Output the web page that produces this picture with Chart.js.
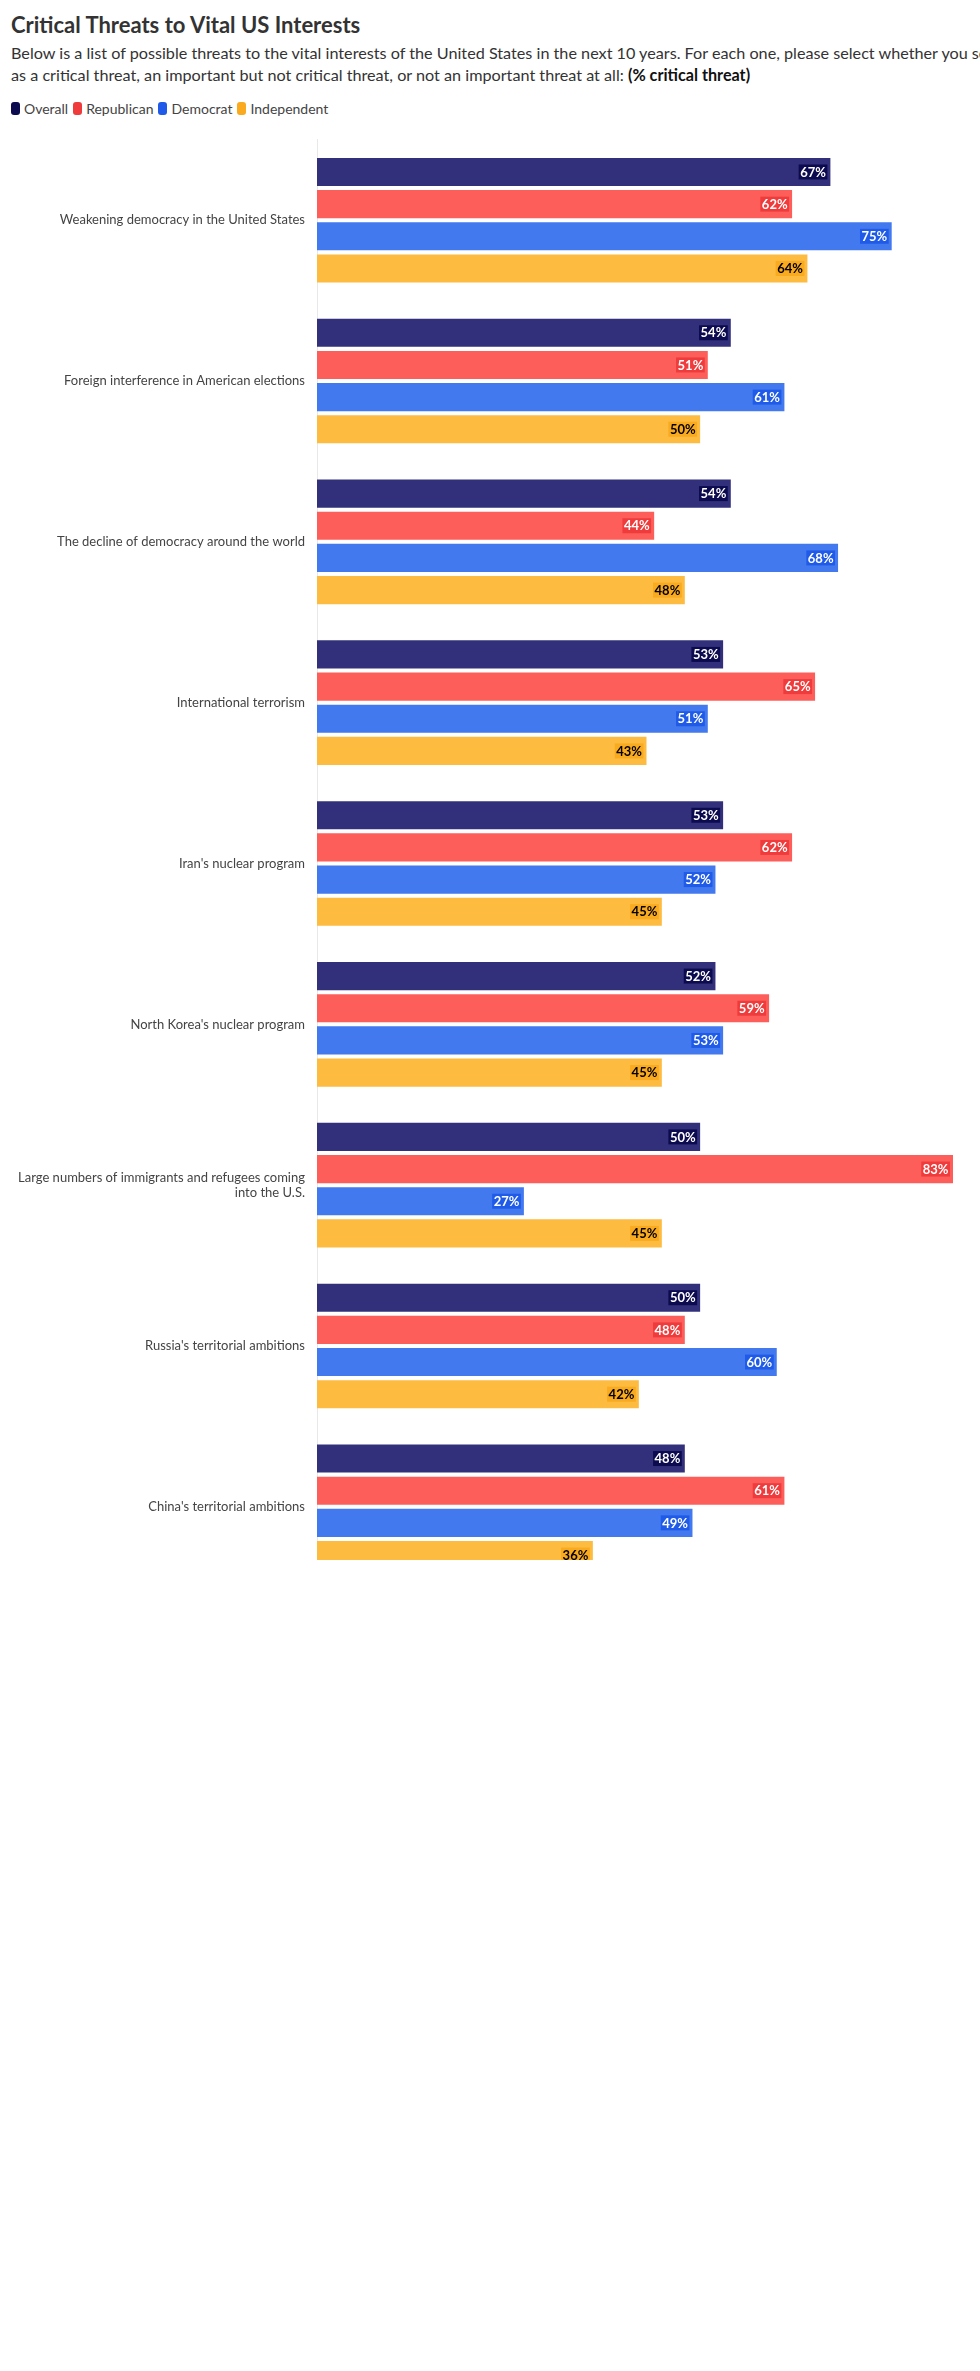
<!DOCTYPE html>
<html>
<head>
<meta charset="utf-8">
<script src="https://cdn.jsdelivr.net/npm/chart.js@4/dist/chart.umd.min.js"></script>
<style>
  html, body { margin: 0; padding: 0; background: #fff; overflow: hidden; width: 980px; }
  body { font-family: Lato, "Noto Sans", sans-serif; color: #333; }
  .head { padding: 0 0 0 11px; }
  h1 { font-size: 22px; line-height: 30px; margin: 10px 0 0 0; font-weight: 700; color: #333; }
  .sub { font-size: 16.2px; line-height: 22px; margin-top: 2px; white-space: nowrap; color: #333; }
  .sub b { color: #111; }
  .legend { margin-top: 12px; height: 20px; display: flex; align-items: center; font-size: 14px; color: #444; }
  .legend span.item { display: flex; align-items: center; margin-right: 5px; }
  .legend i { display: inline-block; width: 9px; height: 13px; border-radius: 3px; margin-right: 4px; }
  .clip { margin-top: 2px; height: 1440px; overflow: hidden; }
  .box { position: relative; width: 980px; height: 1487px; }
</style>
</head>
<body>
<div class="head">
  <h1>Critical Threats to Vital US Interests</h1>
  <div class="sub">Below is a list of possible threats to the vital interests of the United States in the next 10 years. For each one, please select whether you see this<br>as a critical threat, an important but not critical threat, or not an important threat at all: <b>(% critical threat)</b></div>
  <div class="legend" id="legend"></div>
</div>
<div class="clip"><div class="box"><canvas id="threatChart"></canvas></div></div>

<script>
const CATEGORIES = [
    "Weakening democracy in the United States",
    "Foreign interference in American elections",
    "The decline of democracy around the world",
    "International terrorism",
    "Iran's nuclear program",
    "North Korea's nuclear program",
    ["Large numbers of immigrants and refugees coming", "into the U.S."],
    "Russia's territorial ambitions",
    "China's territorial ambitions"
];
const SERIES = ["Overall", "Republican", "Democrat", "Independent"];
const OVERALL     = [67, 54, 54, 53, 53, 52, 50, 50, 48];
const REPUBLICAN  = [62, 51, 44, 65, 62, 59, 83, 48, 61];
const DEMOCRAT    = [75, 61, 68, 51, 52, 53, 27, 60, 49];
const INDEPENDENT = [64, 50, 48, 43, 45, 45, 45, 42, 36];

const BASE_COLORS = ["#0d0b4f", "#ef3b3b", "#1f5be8", "#f9aa1f"];
const BAR_COLORS  = ["#32307a", "#fe5e5a", "#4379ef", "#fdbb40"];
const LABEL_TEXT  = ["#fff", "#fff", "#fff", "#000"];

// HTML legend
const legend = document.getElementById("legend");
SERIES.forEach((name, i) => {
    legend.innerHTML += `<span class="item"><i style="background:${BASE_COLORS[i]}"></i>${name}</span>`;
});

// value labels at bar end with a solid box behind
const valueLabels = {
    id: "valueLabels",
    afterDatasetsDraw(chart) {
        const ctx = chart.ctx;
        ctx.save();
        ctx.font = "bold 13px Lato, 'Noto Sans', sans-serif";
        ctx.textBaseline = "middle";
        ctx.textAlign = "right";
        chart.data.datasets.forEach((ds, di) => {
            chart.getDatasetMeta(di).data.forEach((bar, i) => {
                const txt = ds.data[i] + "%";
                const w = ctx.measureText(txt).width;
                const right = bar.x - 3;
                ctx.fillStyle = BASE_COLORS[di];
                ctx.fillRect(right - w - 3, bar.y - 7.5, w + 3, 15);
                ctx.fillStyle = LABEL_TEXT[di];
                ctx.fillText(txt, right - 1.5, bar.y + 0.5);
            });
        });
        ctx.restore();
    }
};

const allSeries = [OVERALL, REPUBLICAN, DEMOCRAT, INDEPENDENT];

new Chart(document.getElementById("threatChart"), {
    type: "bar",
    data: {
        labels: CATEGORIES,
        datasets: SERIES.map((name, i) => ({
            label: name,
            data: allSeries[i],
            backgroundColor: BAR_COLORS[i],
            borderWidth: 0,
            categoryPercentage: 0.8,
            barPercentage: 0.875
        }))
    },
    options: {
        indexAxis: "y",
        animation: false,
        responsive: true,
        maintainAspectRatio: false,
        layout: { padding: { top: 14, right: 27, bottom: 12, left: 0 } },
        plugins: { legend: { display: false }, tooltip: { enabled: false } },
        scales: {
            x: { display: false, min: 0, max: 83 },
            y: {
                grid: { display: false, drawTicks: false },
                border: { display: true, color: "#e8e8e8", width: 1 },
                ticks: {
                    padding: 12,
                    color: "#444",
                    font: { family: "Lato, 'Noto Sans', sans-serif", size: 13 }
                },
                afterFit(scale) { scale.width = 317; }
            }
        }
    },
    plugins: [valueLabels]
});
</script>
</body>
</html>
